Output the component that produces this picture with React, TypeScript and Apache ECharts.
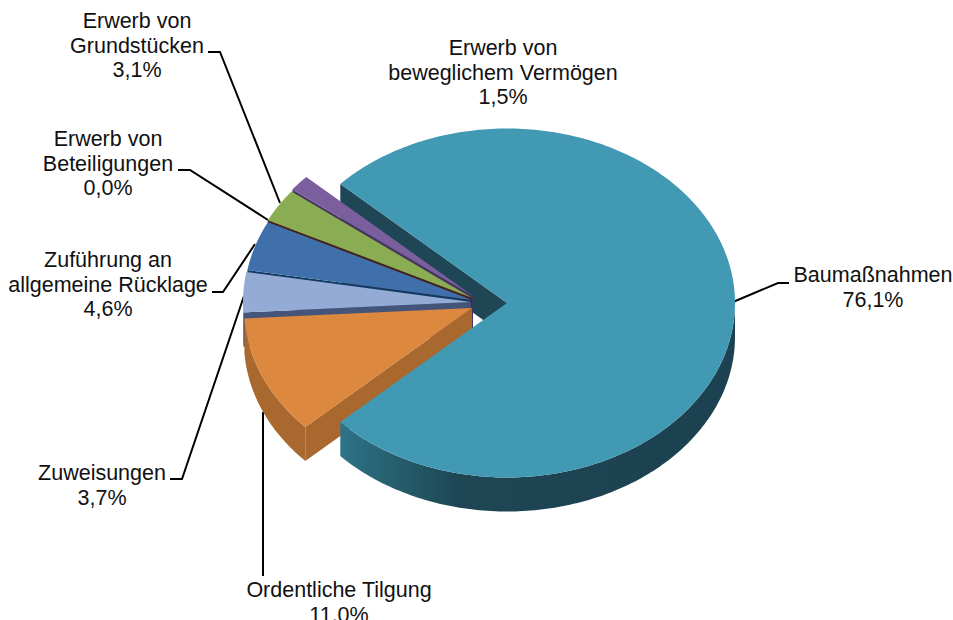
import React, { useEffect, useRef } from "react";
import * as echarts from "echarts";

const categories = [
  "Baumaßnahmen",
  "Ordentliche Tilgung",
  "Zuweisungen",
  "Zuführung an\nallgemeine Rücklage",
  "Erwerb von\nBeteiligungen",
  "Erwerb von\nGrundstücken",
  "Erwerb von\nbeweglichem Vermögen",
];
const shares = [76.1, 11.0, 3.7, 4.6, 0.0, 3.1, 1.5];

const topColors = ["#4299B3", "#DD883F", "#93ABD5", "#3F70AC", "#8B2A25", "#8AAC52", "#7B5E9E"];
const wallColors = ["#1E4655", "#A9682E", "#45557A", "#123A63", "#45231C", "#3C3A2A", "#46355F"];
const sliceCentres = [
  [507, 303],
  [472, 308],
  [471, 302],
  [472, 300],
  [472, 298],
  [472, 298],
  [473, 296],
];
const paintOrder = [6, 5, 4, 3, 2, 1, 0];

const labelBoxes = [
  [873, 275],
  [339, 590],
  [102, 473],
  [108, 260],
  [108, 139],
  [137, 21],
  [503, 48],
];
const leaders = [
  [[733, 302], [778, 283], [789, 283]],
  [[263, 412], [263, 576]],
  [[170, 479], [182, 479], [244, 296]],
  [[212, 292], [223, 292], [255, 244]],
  [[178, 170], [190, 170], [268, 220]],
  [[208, 52], [220, 52], [280, 203]],
];

const RX = 228;
const RY = 174.5;
const DEPTH = 34;
const FONT = "Liberation Sans";
const FONT_SIZE = 21.5;
const LINE_H = 24.5;

const total = shares.reduce((a, b) => a + b, 0);
const mainSpan = (shares[0] / total) * 360;
const angles: [number, number][] = [];
{
  let a = -mainSpan / 2;
  shares.forEach((s) => {
    const b = a + (s / total) * 360;
    angles.push([a, b]);
    a = b;
  });
}

const rim = (c: number[], deg: number, dz = 0) => {
  const r = (deg * Math.PI) / 180;
  return [c[0] + RX * Math.cos(r), c[1] + RY * Math.sin(r) + dz];
};
const arcPts = (c: number[], a: number, b: number, dz = 0) => {
  const pts: number[][] = [];
  const n = Math.max(1, Math.ceil(Math.abs(b - a)));
  for (let i = 0; i <= n; i++) pts.push(rim(c, a + ((b - a) * i) / n, dz));
  return pts;
};

const cutWall = (i: number) => {
  const c = sliceCentres[i];
  const a = angles[i][0];
  const p = rim(c, a);
  return {
    type: "polygon",
    shape: { points: [c, p, [p[0], p[1] + DEPTH], [c[0], c[1] + DEPTH]] },
    style: { fill: wallColors[i] },
  };
};

const wallFill = (i: number) => {
  if (i === 0) {
    return new echarts.graphic.LinearGradient(0, 0, 1, 0, [
      { offset: 0, color: "#2E7389" },
      { offset: 0.12, color: "#27616F" },
      { offset: 0.3, color: "#1E4655" },
      { offset: 1, color: "#1C4150" },
    ]);
  }
  return wallColors[i];
};

const renderBack = (_p: any, api: any) => {
  const i = api.value(1);
  return { type: "group", children: [cutWall(i)] };
};

const renderFront = (_p: any, api: any) => {
  const i = api.value(1);
  const c = sliceCentres[i];
  const [a0, a1] = angles[i];
  const children: any[] = [];
  if (i !== 0) children.push(cutWall(i));
  const w0 = Math.max(a0, 0);
  const w1 = Math.min(a1, 180);
  if (w1 > w0) {
    const upper = arcPts(c, w0, w1);
    const lower = arcPts(c, w0, w1, DEPTH).reverse();
    children.push({
      type: "polygon",
      shape: { points: upper.concat(lower) },
      style: { fill: wallFill(i) },
    });
  }
  if (a1 > a0) {
    children.push({
      type: "polygon",
      shape: { points: [c].concat(arcPts(c, a0, a1)) },
      style: { fill: topColors[i] },
    });
  }
  return { type: "group", children };
};

const percent = (v: number) => v.toFixed(1).replace(".", ",") + "%";

export default function App() {
  const ref = useRef<HTMLDivElement>(null);
  useEffect(() => {
    document.body.style.margin = "0";
    const chart = echarts.init(ref.current!, null, { renderer: "svg" });
    chart.setOption({
      animation: false,
      backgroundColor: "#ffffff",
      series: [
        {
          type: "custom",
          coordinateSystem: "none",
          silent: true,
          renderItem: renderBack,
          data: [[shares[0], 0]],
        },
        {
          type: "custom",
          coordinateSystem: "none",
          silent: true,
          renderItem: renderFront,
          data: paintOrder.map((i) => [shares[i], i]),
        },
      ],
      graphic: [
        ...leaders.map((pts) => ({
          type: "polyline",
          silent: true,
          shape: { points: pts },
          style: { stroke: "#000000", lineWidth: 2, fill: "none" },
        })),
        ...categories.map((name, i) => ({
          type: "text",
          silent: true,
          x: labelBoxes[i][0],
          y: labelBoxes[i][1] - LINE_H / 2,
          style: {
            text: name + "\n" + percent(shares[i]),
            fill: "#111111",
            fontFamily: FONT,
            fontSize: FONT_SIZE,
            lineHeight: LINE_H,
            align: "center",
            verticalAlign: "top",
          },
        })),
      ],
    });
    return () => chart.dispose();
  }, []);
  return <div ref={ref} style={{ width: 953, height: 620, overflow: "hidden" }} />;
}
